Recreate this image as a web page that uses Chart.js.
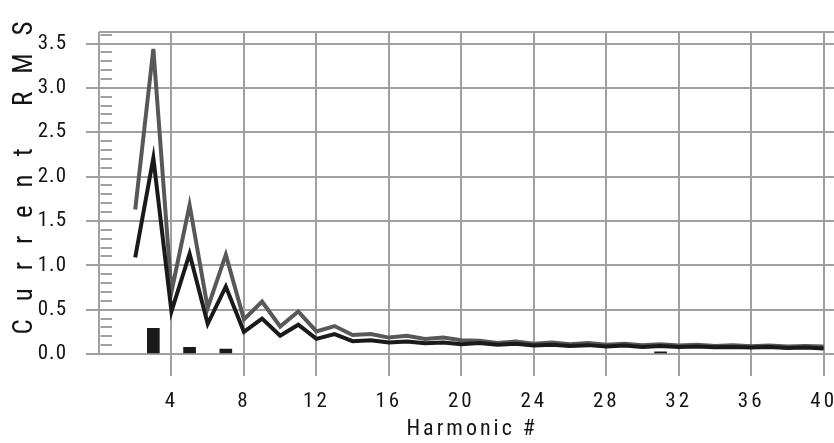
<!DOCTYPE html>
<html><head><meta charset="utf-8">
<script src="https://cdn.jsdelivr.net/npm/chart.js@4"></script>
<style>
html,body{margin:0;padding:0;overflow:hidden;background:#fff}
#wrap{position:relative;width:850px;height:443px}
</style>
</head><body>
<div id="wrap"><canvas id="c"></canvas></div>
<script>
// ---- data ----
const HARMONICS = [2,3,4,5,6,7,8,9,10,11,12,13,14,15,16,17,18,19,20,21,22,23,24,25,26,27,28,29,30,31,32,33,34,35,36,37,38,39,40];
const UPPER_RMS = [1.63,3.44,0.70,1.68,0.52,1.12,0.39,0.59,0.31,0.48,0.255,0.315,0.215,0.225,0.185,0.205,0.17,0.185,0.155,0.15,0.125,0.14,0.115,0.13,0.11,0.125,0.105,0.115,0.10,0.11,0.095,0.105,0.09,0.10,0.088,0.095,0.085,0.09,0.085];
const LOWER_RMS = [1.09,2.21,0.48,1.13,0.34,0.76,0.25,0.40,0.205,0.33,0.17,0.225,0.145,0.155,0.13,0.14,0.12,0.13,0.11,0.125,0.105,0.115,0.095,0.105,0.09,0.10,0.085,0.095,0.08,0.09,0.078,0.085,0.075,0.08,0.072,0.078,0.068,0.072,0.062];
const BAR_HARMONICS = [3,5,7,31];
const BAR_VALUES = [0.29,0.075,0.056,0.025];
const X_TICKS = [0,4,8,12,16,20,24,28,32,36,40];
const Y_TICKS = [0,0.5,1.0,1.5,2.0,2.5,3.0,3.5];
const X_TITLE = 'Harmonic #';
const Y_TITLE = 'Current RMS';

const FONT = "'Roboto Condensed','Liberation Sans Narrow','DejaVu Sans Condensed',sans-serif";
const GRID = '#a0a0a0';
const TEXT = '#141414';
const Y_MAX = 3.63;

const pts = (xs, ys) => xs.map((x, i) => ({x, y: ys[i]}));

function spaced(fn, spacing, dy) {
  return function (...args) {
    const c = this.ctx;
    c.save();
    c.letterSpacing = spacing;
    if (dy) c.translate(0, dy);
    fn.apply(this, args);
    c.restore();
  };
}

const spacingPlugin = {
  id: 'spacing',
  beforeLayout(chart) { chart.ctx.letterSpacing = '3px'; },
  afterLayout(chart) {
    const ys = chart.scales.y, xs = chart.scales.x;
    if (ys && !ys._patched) {
      ys.drawTitle = spaced(ys.drawTitle, '18px', -24);
      ys.drawLabels = spaced(ys.drawLabels, '1px', 0);
      ys._patched = true;
    }
    if (xs && !xs._patched) {
      xs.drawTitle = spaced(xs.drawTitle, '3px', 0);
      xs._patched = true;
    }
  },
  beforeDraw(chart) { chart.ctx.letterSpacing = '3px'; },
  beforeDatasetsDraw(chart) {
    const {ctx, chartArea} = chart;
    const ys = chart.scales.y;
    ctx.save();
    ctx.strokeStyle = GRID;
    ctx.lineWidth = 2;
    for (let k = 1; k <= 36; k++) {
      if (k % 5 === 0) continue;
      const py = Math.round(ys.getPixelForValue(k / 10));
      ctx.beginPath();
      ctx.moveTo(chartArea.left + 1.5, py);
      ctx.lineTo(chartArea.left + 13, py);
      ctx.stroke();
    }
    ctx.restore();
  }
};

new Chart(document.getElementById('c'), {
  type: 'line',
  data: {
    datasets: [
      {label: 'Lower', data: pts(HARMONICS, LOWER_RMS), borderColor: '#1a1a1a', borderWidth: 4,
       pointRadius: 0, tension: 0, fill: false, borderJoinStyle: 'miter'},
      {label: 'Upper', data: pts(HARMONICS, UPPER_RMS), borderColor: '#585858', borderWidth: 4,
       pointRadius: 0, tension: 0, fill: false, borderJoinStyle: 'miter'},
      {type: 'bar', label: 'Bars', data: pts(BAR_HARMONICS, BAR_VALUES), backgroundColor: '#1a1a1a',
       barThickness: 12, borderWidth: 0}
    ]
  },
  options: {
    responsive: true,
    maintainAspectRatio: false,
    animation: false,
    layout: {padding: {top: 32, left: 0, right: 0, bottom: 0}},
    plugins: {legend: {display: false}, tooltip: {enabled: false}},
    scales: {
      x: {
        type: 'linear', min: 0, max: 41.2, offset: false,
        afterBuildTicks: a => { a.ticks = X_TICKS.map(v => ({value: v})); },
        afterFit: s => { s.height = 89; },
        grid: {color: GRID, lineWidth: 2, tickLength: 22, offset: false,
               tickColor: c => (c.tick && c.tick.value === 0) ? 'rgba(0,0,0,0)' : GRID},
        border: {display: false},
        ticks: {callback: v => v === 0 ? '' : String(v), color: TEXT, font: {family: FONT, size: 21},
                padding: 13, maxRotation: 0, autoSkip: false},
        title: {display: true, text: X_TITLE, color: TEXT, font: {family: FONT, size: 22},
                padding: {top: 0, bottom: 0}}
      },
      y: {
        type: 'linear', min: 0, max: Y_MAX,
        afterBuildTicks: a => { a.ticks = Y_TICKS.map(v => ({value: v})).concat([{value: Y_MAX}]); },
        afterFit: s => { s.width = 99; },
        grid: {color: GRID, lineWidth: 2, tickLength: 13,
               tickColor: c => (c.tick && c.tick.value > 3.6) ? 'rgba(0,0,0,0)' : GRID},
        border: {display: false},
        ticks: {callback: v => Y_TICKS.includes(v) ? v.toFixed(1) : '', color: TEXT,
                font: {family: FONT, size: 21}, padding: 19},
        title: {display: true, text: Y_TITLE, color: TEXT, font: {family: FONT, size: 27},
                padding: {top: 9, bottom: 0}}
      }
    }
  },
  plugins: [spacingPlugin]
});
</script>
</body></html>
